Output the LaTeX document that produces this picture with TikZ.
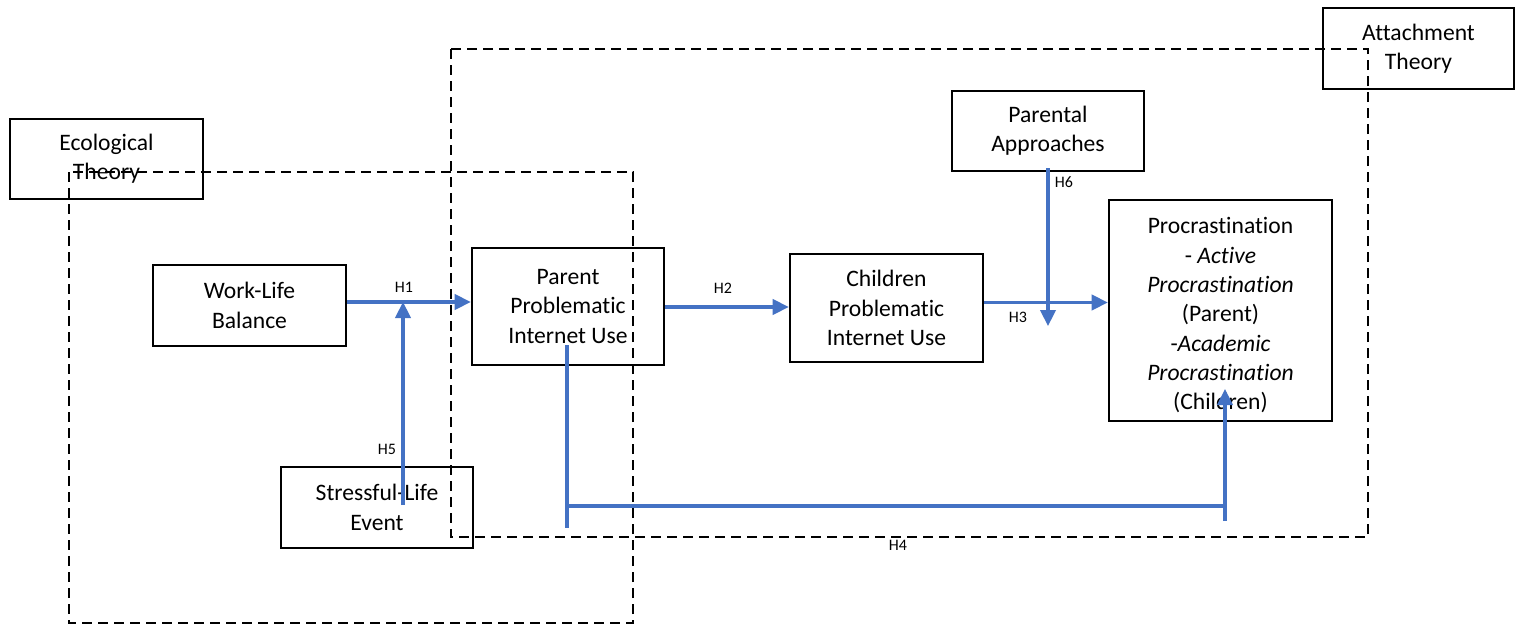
\documentclass[tikz,border=0pt]{standalone}
\usepackage{fontspec}
\setmainfont{Carlito}[Ligatures={NoCommon}]
\usetikzlibrary{arrows.meta}
\definecolor{hblue}{HTML}{4472C4}
\tikzset{
  sz/.style 2 args={minimum width=#1*0.75pt, minimum height=#2*0.75pt},
  box/.style={draw=black, line width=1.9pt, inner sep=0pt, align=center,
    font=\fontsize{17.7}{22}\selectfont},
  txt/.style={inner sep=0pt, align=center, font=\fontsize{17.7}{22}\selectfont},
  theorybox/.style={draw=black, line width=1.8pt, dash pattern=on 7.5pt off 4.5pt},
  link/.style={draw=hblue, line width=2.3pt},
  arr/.style={link, -{Triangle[length=12pt,width=11.5pt]}},
  lbl/.style={font=\fontsize{12}{14}\selectfont, inner sep=0pt}
}
\begin{document}
\begin{tikzpicture}[x=0.75pt,y=-0.75pt]
\useasboundingbox (0,0) rectangle (1518,625);
% theory frames
\draw[theorybox] (69,172) rectangle (633,623);
\draw[theorybox] (451,49) rectangle (1368,537);
% boxes
\node[box, sz={193}{80}] (eco) at (106.5,159) {Ecological\\Theory};
\node[box, sz={191}{81}] (att) at (1418.5,48.5) {Attachment\\Theory};
\node[box, sz={193}{81}] (wl) at (249.5,305.5) {Work-Life\\Balance};
\node[box, sz={192}{117}] (ppiu) at (568,306.5) {Parent\\Problematic\\Internet Use};
\node[box, sz={193}{108}] (cpiu) at (886.5,308) {Children\\Problematic\\Internet Use};
\node[box, sz={192}{80}] (pa) at (1048,131) {Parental\\Approaches};
\node[box, sz={223}{221}] (proc) at (1220.5,310.5) {};
\node[txt] (proct) at (1220.5,315.5) {Procrastination\\- \textit{Active}\\\textit{Procrastination}\\(Parent)\\-\textit{Academic}\\\textit{Procrastination}\\(Children)};
\node[box, sz={192}{81}] (sle) at (377,507.5) {Stressful-Life\\Event};
% connector coordinates
\coordinate (h5s) at (403,505);
\coordinate (h5e) at (403,302);
\coordinate (h6e) at (1048,326);
\coordinate (h4a) at (567,345);
\coordinate (h4b) at (567,528);
\coordinate (h4c) at (567,506);
\coordinate (h4d) at (1225,506);
\coordinate (h4e) at (1225,521);
\coordinate (h4f) at (1225,389);
% connectors
\draw[arr] (wl.east |- h5e) -- (ppiu.west |- h5e);
\draw[arr] (h5s) -- (h5e);
\draw[arr] (ppiu.east |- 0,307) -- (cpiu.west |- 0,307);
\draw[arr] (cpiu.east |- 0,302.5) -- (proc.west |- 0,302.5);
\draw[arr] ([yshift=3pt]pa.south) -- (h6e);
\draw[link] (h4a) -- (h4b);
\draw[link] (h4c) -- (h4d);
\draw[arr] (h4e) -- (h4f);
% labels
\node[lbl] (l1) at (404,287) {H1};
\node[lbl] (l2) at (723,288) {H2};
\node[lbl] (l3) at (1018,317) {H3};
\node[lbl] (l4) at (898,545) {H4};
\node[lbl] (l5) at (387,449) {H5};
\node[lbl] (l6) at (1064,182) {H6};
\end{tikzpicture}
\end{document}
